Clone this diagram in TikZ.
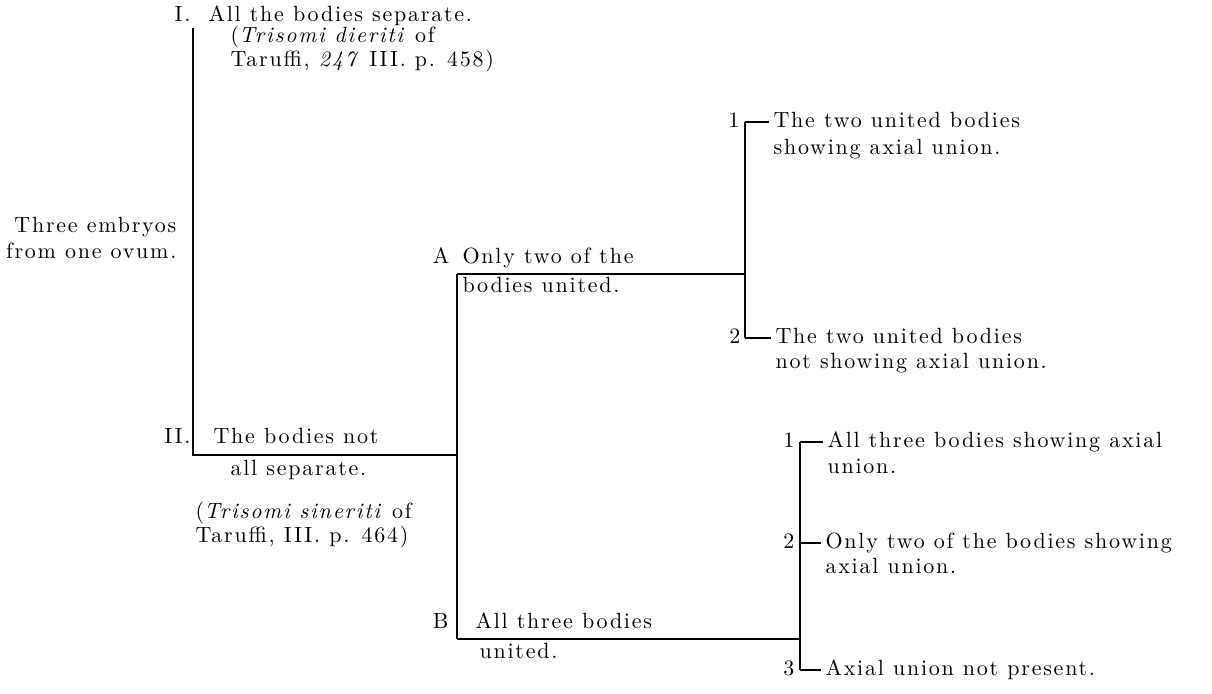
\documentclass[tikz,border=0pt]{standalone}
\usepackage{fontspec}
\setmainfont{lmroman10-regular.otf}[ItalicFont=lmroman10-italic.otf, LetterSpace=8]

\begin{document}
\begin{tikzpicture}[x=0.5pt, y=-0.5pt, line width=0.6pt,
  every node/.style={inner sep=0pt, font=\fontsize{11}{12.5}\selectfont},
  txt/.style={anchor=base west, align=left},
  num/.style={anchor=base east}]

  \useasboundingbox (0, 0) rectangle (1212, 693);

  % first division (multi-line nodes sit on their last baseline)
  \node[num] (nI)   at (191,  21) {I.};
  \node[txt] (tI)   at (208,  21) {All the bodies separate.};
  \node[txt, font=\fontsize{11}{10.5}\selectfont] (refI) at (230,  66)
    {(\textit{Trisomi dieriti} of\\Taruffi, \textit{247} III. p. 458)};

  \node[anchor=base east, align=right, font=\fontsize{11}{13}\selectfont] (root) at (177, 258)
    {Three embryos\\from one ovum.};

  \node[num] (nII)   at (191, 443) {II.};
  \node[txt] (tII)   at (213, 443) {The bodies not};
  \node[txt] (tIIb)  at (230, 475) {all separate.};
  \node[txt, font=\fontsize{11}{12}\selectfont] (refII) at (195, 542)
    {(\textit{Trisomi sineriti} of\\Taruffi, III. p. 464)};

  % A and B
  \node[num] (nA)  at (450, 263) {A};
  \node[txt] (tA)  at (462, 263) {Only two of the};
  \node[txt] (tAb) at (462, 292) {bodies united.};

  \node[num] (nB)  at (449, 628) {B};
  \node[txt] (tB)  at (475, 628) {All three bodies};
  \node[txt] (tBb) at (479, 658) {united.};

  % sub-cases of A
  \node[num] (nA1) at (740, 127) {1};
  \node[txt, font=\fontsize{11}{13.5}\selectfont] (tA1) at (773, 154)
    {The two united bodies\\showing axial union.};
  \node[num] (nA2) at (741, 343) {2};
  \node[txt] (tA2) at (775, 368) {The two united bodies\\not showing axial union.};

  % sub-cases of B
  \node[num] (nB1) at (795, 447) {1};
  \node[txt, font=\fontsize{11}{13}\selectfont] (tB1) at (827, 473)
    {All three bodies showing axial\\union.};
  \node[num] (nB2) at (795, 548) {2};
  \node[txt] (tB2) at (825, 573) {Only two of the bodies showing\\axial union.};
  \node[num] (nB3) at (795, 675) {3};
  \node[txt] (tB3) at (825, 675) {Axial union not present.};

  % brackets
  \coordinate (top)   at (193,  28);
  \coordinate (split) at (193, 455);
  \coordinate (mid)   at (457, 455);
  \coordinate (aTop)  at (457, 274);
  \coordinate (bBot)  at (457, 639);
  \coordinate (aEnd)  at (745, 274);
  \coordinate (bEnd)  at (800, 639);
  \coordinate (a1)    at (745, 122);
  \coordinate (a2)    at (745, 338);
  \coordinate (b1)    at (800, 442);
  \coordinate (b2)    at (800, 543);
  \coordinate (b3)    at (800, 670);

  \draw (top) -- (split) -- (mid);
  \draw (aTop) -- (bBot);
  \draw (aTop) -- (aEnd);
  \draw (bBot) -- (bEnd);
  \draw (a1) -- (a2);
  \draw (b1) -- (b3);

  \draw (a1) -- ([xshift=-2pt]a1 -| tA1.west);
  \draw (a2) -- ([xshift=-2pt]a2 -| tA2.west);
  \draw (b1) -- ([xshift=-2pt]b1 -| tB1.west);
  \draw (b2) -- ([xshift=-2pt]b2 -| tB2.west);
  \draw (b3) -- ([xshift=-2pt]b3 -| tB3.west);

\end{tikzpicture}
\end{document}
